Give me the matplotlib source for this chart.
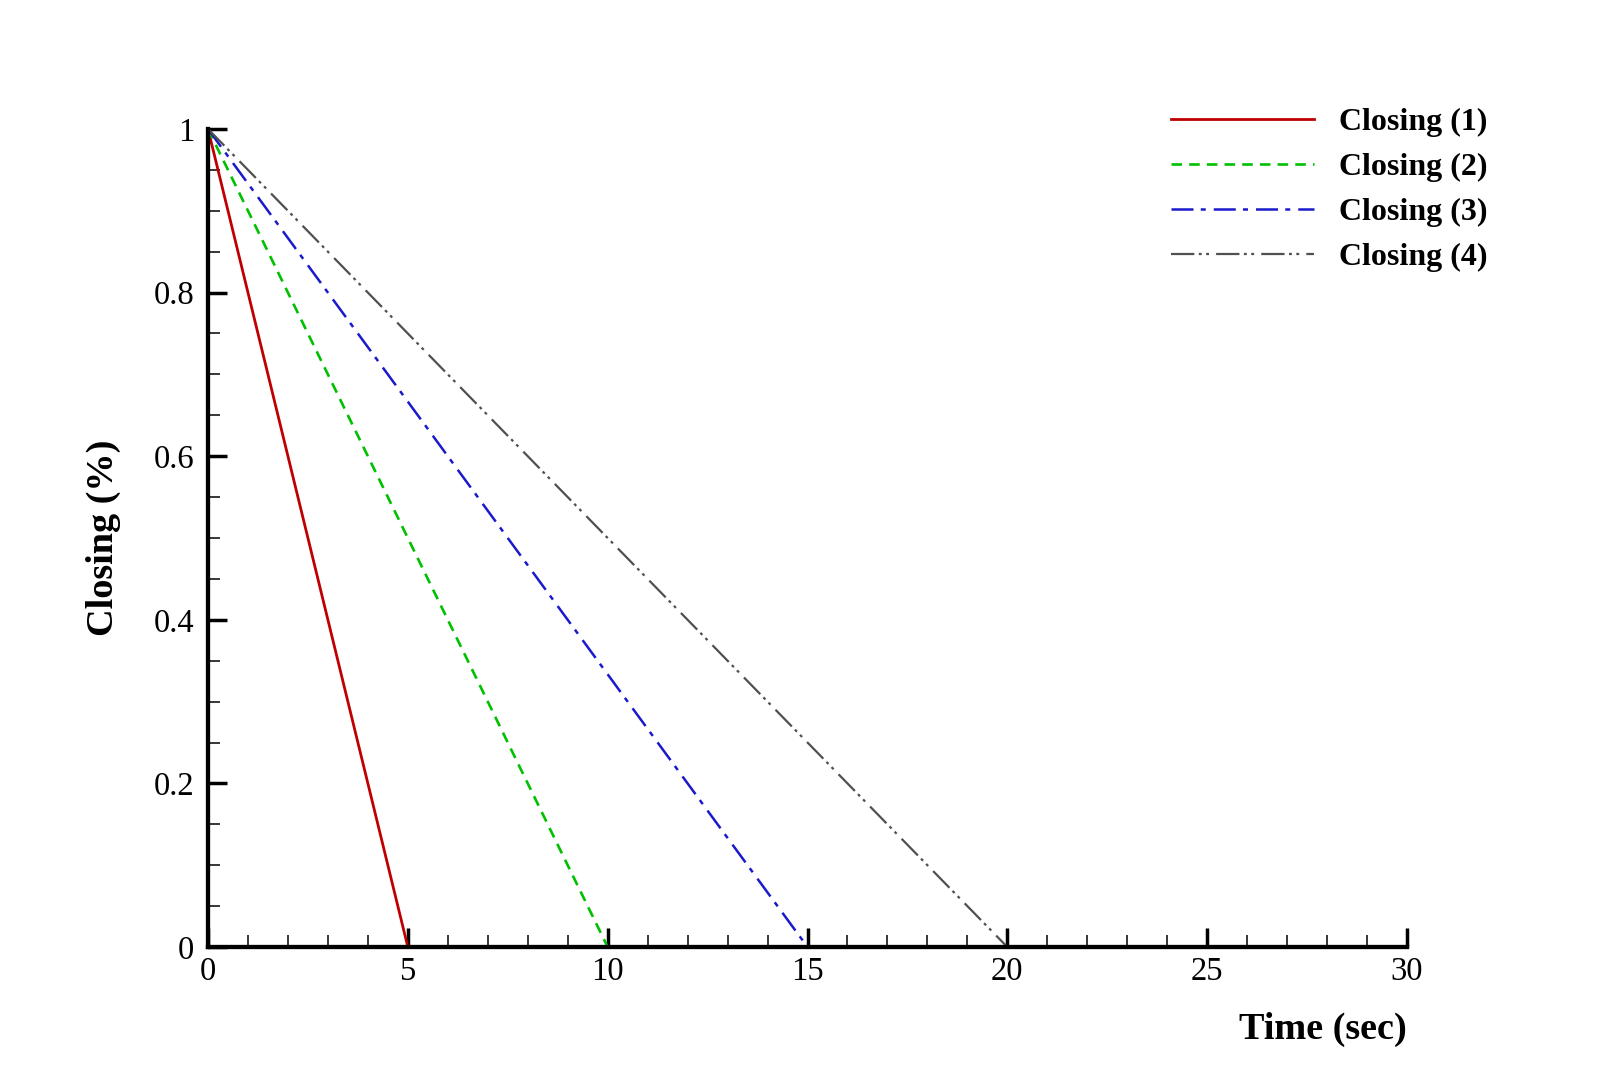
import matplotlib
matplotlib.use("Agg")
import matplotlib.pyplot as plt
from matplotlib.ticker import MultipleLocator

plt.rcParams['font.family'] = ['Liberation Serif', 'DejaVu Serif']

labels = ["Closing (1)", "Closing (2)", "Closing (3)", "Closing (4)"]
times = [[0, 5], [0, 10], [0, 15], [0, 20]]
values = [[1, 0], [1, 0], [1, 0], [1, 0]]
yticks = [0, 0.2, 0.4, 0.6, 0.8, 1.0]
yticklabels = ["0", "0.2", "0.4", "0.6", "0.8", "1"]
colors = ["#c00000", "#00c000", "#1a1acc", "#505050"]
styles = ["-", (0, (4, 2.7)), (0, (8.8, 2.9, 2, 3.2)), (0, (10.5, 2, 1.3, 2, 1.3, 3.2))]
widths = [2.0, 1.9, 1.8, 1.6]

fig = plt.figure(figsize=(16, 10.66), dpi=100)
ax = fig.add_axes([0.13, 0.1116, 0.7494, 0.7674])

for t, v, c, s, w, l in zip(times, values, colors, styles, widths, labels):
    ax.plot(t, v, color=c, linestyle=s, linewidth=w, label=l)

ax.set_xlim(0, 30)
ax.set_ylim(0, 1)
ax.xaxis.set_major_locator(MultipleLocator(5))
ax.xaxis.set_minor_locator(MultipleLocator(1))
ax.yaxis.set_minor_locator(MultipleLocator(0.05))
ax.set_yticks(yticks)
ax.set_yticklabels(yticklabels)

for sp in ['top', 'right']:
    ax.spines[sp].set_visible(False)
for sp in ['left', 'bottom']:
    ax.spines[sp].set_linewidth(3.1)
    ax.spines[sp].set_capstyle('projecting')

ax.tick_params(which='major', direction='in', length=14, width=2.5, labelsize=23.5)
ax.tick_params(which='minor', direction='in', length=8.5, width=1.1)
ax.tick_params(axis='x', which='major', pad=7)
ax.tick_params(axis='y', which='major', pad=10)

ax.set_xlabel("Time (sec)", fontsize=27.5, fontweight='bold')
ax.xaxis.set_label_coords(1.0, -0.079)
ax.xaxis.label.set_horizontalalignment('right')
ax.set_ylabel("Closing (%)", fontsize=27.5, fontweight='bold')
ax.yaxis.set_label_coords(-0.0725, 0.5)

leg = ax.legend(loc='upper left', bbox_to_anchor=(1171 / 1600, 1 - 108 / 1066),
                bbox_transform=fig.transFigure, frameon=False,
                borderpad=0, borderaxespad=0,
                prop={'size': 23, 'weight': 'bold'}, handlelength=4.49,
                handletextpad=0.78, labelspacing=0.49)

fig.savefig("out.png", dpi=100, facecolor='white')
